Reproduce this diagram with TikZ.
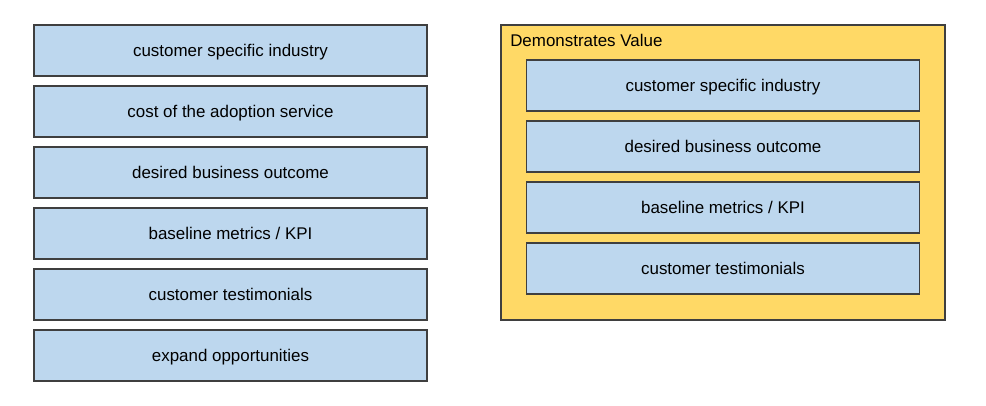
\documentclass[tikz,border=0pt]{standalone}
\usepackage{fontspec}
\setmainfont{Liberation Sans}
\usetikzlibrary{positioning}
\definecolor{azulbox}{HTML}{BDD7EE}
\definecolor{bordabox}{HTML}{3F3F3F}
\definecolor{amarelo}{HTML}{FFD966}

\begin{document}
\begin{tikzpicture}[
  x=0.75pt,y=-0.75pt,
  node distance=7.5pt,
  item/.style={draw=bordabox,fill=azulbox,line width=1.1pt,outer sep=0pt,minimum width=294.75pt,minimum height=38.25pt,align=center,text height=9.5pt,text depth=0.5pt,font=\fontsize{12.7}{15}\selectfont},
  container/.style={draw=bordabox,fill=amarelo,line width=1.1pt,outer sep=0pt,minimum width=333pt,minimum height=221.25pt}
]
  \useasboundingbox (0,0) rectangle (986,406);
  % left column
  \node[item] (l1) at (230.5,50.5) {customer specific industry};
  \node[item,below=of l1] (l2) {cost of the adoption service};
  \node[item,below=of l2] (l3) {desired business outcome};
  \node[item,below=of l3] (l4) {baseline metrics / KPI};
  \node[item,below=of l4] (l5) {customer testimonials};
  \node[item,below=of l5] (l6) {expand opportunities};
  % right group
  \node[container] (dv) at (723,172.5) {};
  \node[font=\fontsize{12.7}{15}\selectfont,anchor=north west,inner sep=0pt] (dvtitle) at ([xshift=6.75pt,yshift=-6.5pt]dv.north west) {Demonstrates Value};
  \node[item] (r1) at (723,85.5) {customer specific industry};
  \node[item,below=of r1] (r2) {desired business outcome};
  \node[item,below=of r2] (r3) {baseline metrics / KPI};
  \node[item,below=of r3] (r4) {customer testimonials};
\end{tikzpicture}
\end{document}
